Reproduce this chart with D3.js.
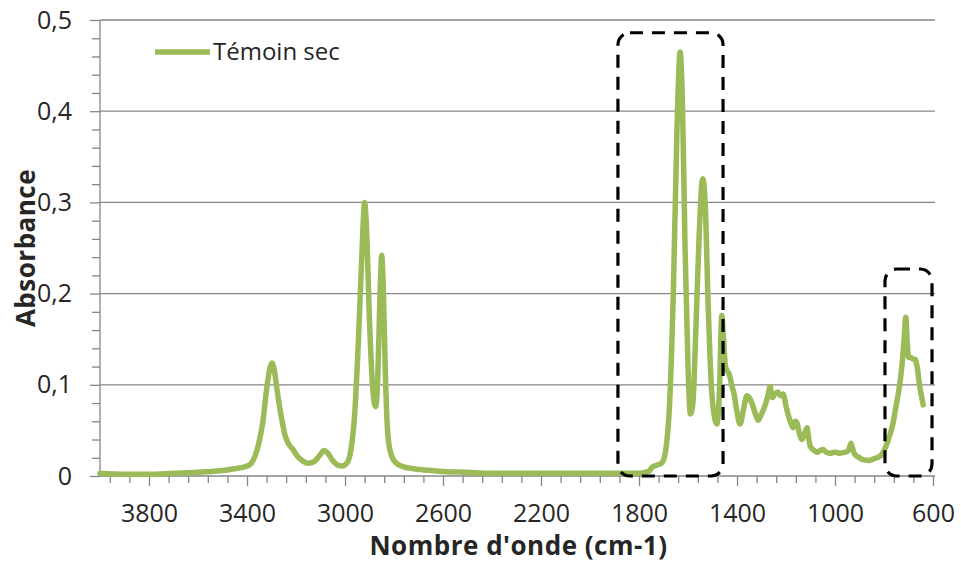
<!DOCTYPE html>
<html>
<head>
<meta charset="utf-8">
<script src="https://cdn.jsdelivr.net/npm/d3@7/dist/d3.min.js"></script>
<style>
  html, body { margin: 0; padding: 0; background: #ffffff; }
  svg { display: block; }
  text { font-family: "Open Sans", Lato, sans-serif; fill: #262626; }
</style>
</head>
<body>
<svg id="chart" width="961" height="564"></svg>
<script>
// ---- Data ----
const seriesName = "Témoin sec";
const wavenumbers = [
  4000, 3900, 3800, 3700, 3600, 3550, 3500, 3450, 3410, 3390, 3370, 3350, 3335, 3320, 3305, 3298, 3290, 3275, 3260, 3245,
  3230, 3212, 3195, 3175, 3150, 3125, 3105, 3085, 3070, 3050, 3030, 3010, 2990, 2975, 2960, 2945, 2930, 2920, 2912, 2900,
  2885, 2875, 2866, 2857, 2850, 2843, 2835, 2825, 2810, 2790, 2760, 2720, 2650, 2600, 2500, 2400, 2300, 2200, 2100, 2000,
  1900, 1800, 1760, 1745, 1725, 1705, 1690, 1675, 1660, 1645, 1632, 1622, 1612, 1600, 1590, 1580, 1568, 1555, 1540, 1530,
  1518, 1505, 1490, 1482, 1472, 1462, 1455, 1447, 1437, 1430, 1422, 1412, 1400, 1388, 1372, 1360, 1348, 1338, 1325, 1314,
  1300, 1286, 1272, 1265, 1256, 1245, 1233, 1222, 1212, 1200, 1192, 1180, 1171, 1162, 1155, 1145, 1135, 1125, 1114, 1108,
  1100, 1085, 1073, 1060, 1049, 1035, 1020, 1000, 980, 960, 945, 935, 928, 920, 900, 886, 860, 840, 820, 808,
  790, 775, 763, 750, 740, 727, 718, 711, 705, 700, 690, 680, 673, 665, 655, 645, 640
];
const absorbance = [
  0.003, 0.002, 0.002, 0.003, 0.004, 0.005, 0.006, 0.008, 0.010, 0.012, 0.020, 0.038, 0.060, 0.095, 0.120, 0.124, 0.118, 0.090, 0.065, 0.045,
  0.035, 0.029, 0.022, 0.017, 0.014, 0.016, 0.022, 0.028, 0.025, 0.017, 0.012, 0.011, 0.015, 0.030, 0.070, 0.150, 0.250, 0.300, 0.270, 0.170,
  0.090, 0.076, 0.110, 0.200, 0.242, 0.200, 0.110, 0.045, 0.022, 0.014, 0.010, 0.008, 0.006, 0.005, 0.004, 0.003, 0.003, 0.003, 0.003, 0.003,
  0.003, 0.003, 0.005, 0.010, 0.012, 0.015, 0.030, 0.080, 0.200, 0.380, 0.465, 0.400, 0.250, 0.120, 0.068, 0.080, 0.160, 0.260, 0.326, 0.300,
  0.190, 0.100, 0.062, 0.057, 0.090, 0.176, 0.150, 0.120, 0.114, 0.110, 0.100, 0.090, 0.070, 0.057, 0.075, 0.088, 0.085, 0.079, 0.068, 0.061,
  0.068, 0.077, 0.090, 0.098, 0.086, 0.090, 0.092, 0.088, 0.090, 0.077, 0.068, 0.058, 0.053, 0.060, 0.058, 0.046, 0.040, 0.046, 0.053, 0.042,
  0.032, 0.028, 0.026, 0.028, 0.029, 0.026, 0.025, 0.026, 0.025, 0.026, 0.028, 0.036, 0.030, 0.024, 0.020, 0.018, 0.017, 0.019, 0.021, 0.024,
  0.034, 0.046, 0.058, 0.078, 0.093, 0.120, 0.150, 0.174, 0.145, 0.130, 0.130, 0.128, 0.128, 0.120, 0.100, 0.085, 0.078
];
const xTickValues = [3800, 3400, 3000, 2600, 2200, 1800, 1400, 1000, 600];
const yTickValues = [0, 0.1, 0.2, 0.3, 0.4, 0.5];
const yTickLabels = ["0", "0,1", "0,2", "0,3", "0,4", "0,5"];
const xTitle = "Nombre d'onde (cm-1)";
const yTitle = "Absorbance";
// highlighted regions
const boxWnStart = [1886, 796];
const boxWnEnd = [1457, 604];
const boxATop = [0.486, 0.227];

// ---- Chart ----
const svg = d3.select("#chart");
const L = 100, R = 933, T = 20, B = 476;
const x = d3.scaleLinear().domain([4000, 600]).range([L, R]);
const y = d3.scaleLinear().domain([0, 0.5]).range([B, T]);
const grid = "#868686";
const green = "#9BBB59";

// gridlines
svg.append("g").selectAll("line").data(yTickValues.filter(v => v > 0)).join("line")
  .attr("x1", L).attr("x2", R + 2)
  .attr("y1", d => y(d)).attr("y2", d => y(d))
  .attr("stroke", grid).attr("stroke-width", 1.3);

// y minor ticks
const yMinor = d3.range(0, 0.5001, 0.02).filter(v => Math.abs(v * 10 - Math.round(v * 10)) > 1e-6);
const yMinorAxis = svg.append("g").attr("transform", `translate(${L},0)`)
  .call(d3.axisLeft(y).tickValues(yMinor).tickSize(8).tickFormat(""));
yMinorAxis.select(".domain").remove();
yMinorAxis.selectAll("line").attr("stroke", grid).attr("stroke-width", 1.3);

// y major axis
const yAxis = svg.append("g").attr("transform", `translate(${L},0)`)
  .call(d3.axisLeft(y).tickValues(yTickValues).tickSize(10).tickPadding(18)
    .tickFormat((d, i) => yTickLabels[i]));
yAxis.select(".domain").attr("stroke", grid).attr("stroke-width", 1.3).attr("d", `M0,${T}V${B}`);
yAxis.selectAll("line").attr("stroke", grid).attr("stroke-width", 1.3);
yAxis.selectAll("text").style("font-size", "25px").attr("fill", "#262626");

// x minor ticks
const xMinor = d3.range(600, 4000, 80).filter(v => !xTickValues.includes(v));
const xMinorAxis = svg.append("g").attr("transform", `translate(0,${B})`)
  .call(d3.axisBottom(x).tickValues(xMinor).tickSize(7).tickFormat(""));
xMinorAxis.select(".domain").remove();
xMinorAxis.selectAll("line").attr("stroke", grid).attr("stroke-width", 1.3);

// x major axis
const xAxis = svg.append("g").attr("transform", `translate(0,${B})`)
  .call(d3.axisBottom(x).tickValues(xTickValues).tickSize(10).tickPadding(18)
    .tickFormat(d3.format("d")));
xAxis.select(".domain").attr("stroke", grid).attr("stroke-width", 1.3).attr("d", `M${L},0H${R + 2}`);
xAxis.selectAll("line").attr("stroke", grid).attr("stroke-width", 1.3);
xAxis.selectAll("text").style("font-size", "25px").attr("fill", "#262626");

// spectrum line
const pts = wavenumbers.map((w, i) => [w, absorbance[i]]);
svg.append("path").datum(pts)
  .attr("fill", "none").attr("stroke", green).attr("stroke-width", 5.5)
  .attr("stroke-linejoin", "round").attr("stroke-linecap", "round")
  .attr("d", d3.line().x(d => x(d[0])).y(d => y(d[1])).curve(d3.curveMonotoneX));

// dashed boxes
svg.append("g").selectAll("rect").data(boxWnStart.map((s, i) => ({s, e: boxWnEnd[i], t: boxATop[i]}))).join("rect")
  .attr("x", d => x(d.s)).attr("width", d => x(d.e) - x(d.s))
  .attr("y", d => y(d.t)).attr("height", d => y(0) - y(d.t))
  .attr("rx", 12).attr("ry", 12)
  .attr("fill", "none").attr("stroke", "#000").attr("stroke-width", 3.2)
  .attr("stroke-dasharray", "13 9");

// legend
const leg = svg.append("g");
leg.append("line").attr("x1", 155).attr("x2", 210).attr("y1", 52).attr("y2", 52)
  .attr("stroke", green).attr("stroke-width", 5.5);
leg.append("text").attr("x", 213).attr("y", 60).style("font-size", "24px").text(seriesName);

// axis titles
svg.append("text").attr("x", (L + R) / 2 + 2).attr("y", 555).attr("text-anchor", "middle")
  .style("font-size", "26px").style("font-weight", "bold").style("letter-spacing", "0.5px")
  .attr("fill", "#0d0d0d").text(xTitle);
svg.append("text").attr("transform", `translate(35,${(T + B) / 2}) rotate(-90)`).attr("text-anchor", "middle")
  .style("font-size", "26px").style("font-weight", "bold").style("letter-spacing", "0.5px")
  .attr("fill", "#0d0d0d").text(yTitle);
</script>
</body>
</html>
